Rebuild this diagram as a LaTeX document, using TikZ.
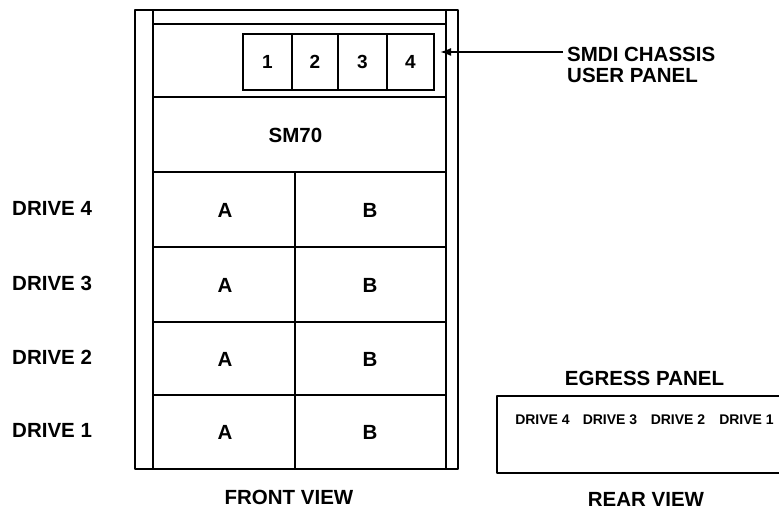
\documentclass[tikz,border=0pt]{standalone}
\usepackage{fontspec}
\setmainfont{Liberation Sans}
\usetikzlibrary{arrows.meta}
\begin{document}
\begin{tikzpicture}[x=1pt,y=-1pt,
  heavy/.style={line width=2.6pt, line join=round},
  light/.style={line width=1.7pt},
  biglabel/.style={font=\fontsize{20.5}{21.5}\selectfont\bfseries, inner sep=0pt},
  digit/.style={font=\fontsize{19}{20}\selectfont\bfseries, inner sep=0pt},
  small/.style={font=\fontsize{14}{16}\selectfont\bfseries, inner sep=0pt}
]
\useasboundingbox (0,0) rectangle (779,510);
% cabinet
\draw[heavy] (135,10) rectangle (458,469);
\draw[light] (153,10) -- (153,469);
\draw[light] (446,10) -- (446,469);
\draw[light] (153,24) -- (446,24);
\foreach \yy in {97,172,247,322,395} \draw[light] (153,\yy) -- (446,\yy);
\draw[light] (295,172) -- (295,469);
% user panel
\node[draw, line width=2.2pt, minimum width=191pt, minimum height=56pt, inner sep=0pt] (panel) at (338.5,62) {};
\foreach \xx in {292,338,387} \draw[light] (\xx,34) -- (\xx,90);
\node[digit] (d1) at (267.5,62) {1};
\node[digit] (d2) at (315,62) {2};
\node[digit] (d3) at (362.5,62) {3};
\node[digit] (d4) at (410.5,62) {4};
% SM70
\node[biglabel] (sm) at (295.5,135) {SM70};
% drive rows
\foreach \nm/\yy/\lab in {r4/210/4, r3/285/3, r2/359/2, r1/432/1} {
  \node[biglabel] (\nm a) at (225,\yy) {A};
  \node[biglabel] (\nm b) at (370,\yy) {B};
  \node[biglabel, anchor=west] (\nm l) at (12,\yy-2) {DRIVE \lab};
}
% arrow + label
\node[biglabel, anchor=north west, align=left] (smdi) at (567,46.5) {SMDI CHASSIS\\USER PANEL};
\coordinate (arrstart) at (563,52);
\coordinate (arrend) at (440,52);
\draw[line width=1.8pt, -{Latex[length=11pt,width=8pt]}] (arrstart) -- (arrend);
% captions
\node[biglabel] (front) at (289,497.5) {FRONT VIEW};
\node[biglabel] (rear) at (646,499) {REAR VIEW};
\node[biglabel] (egress) at (644.5,378.5) {EGRESS PANEL};
% egress panel
\draw[heavy] (785,396) -- (497,396) -- (497,473) -- (785,473);
\node[small] (e4) at (542.5,420) {DRIVE 4};
\node[small] (e3) at (610,420) {DRIVE 3};
\node[small] (e2) at (678,420) {DRIVE 2};
\node[small] (e1) at (746.5,420) {DRIVE 1};
\end{tikzpicture}
\end{document}
